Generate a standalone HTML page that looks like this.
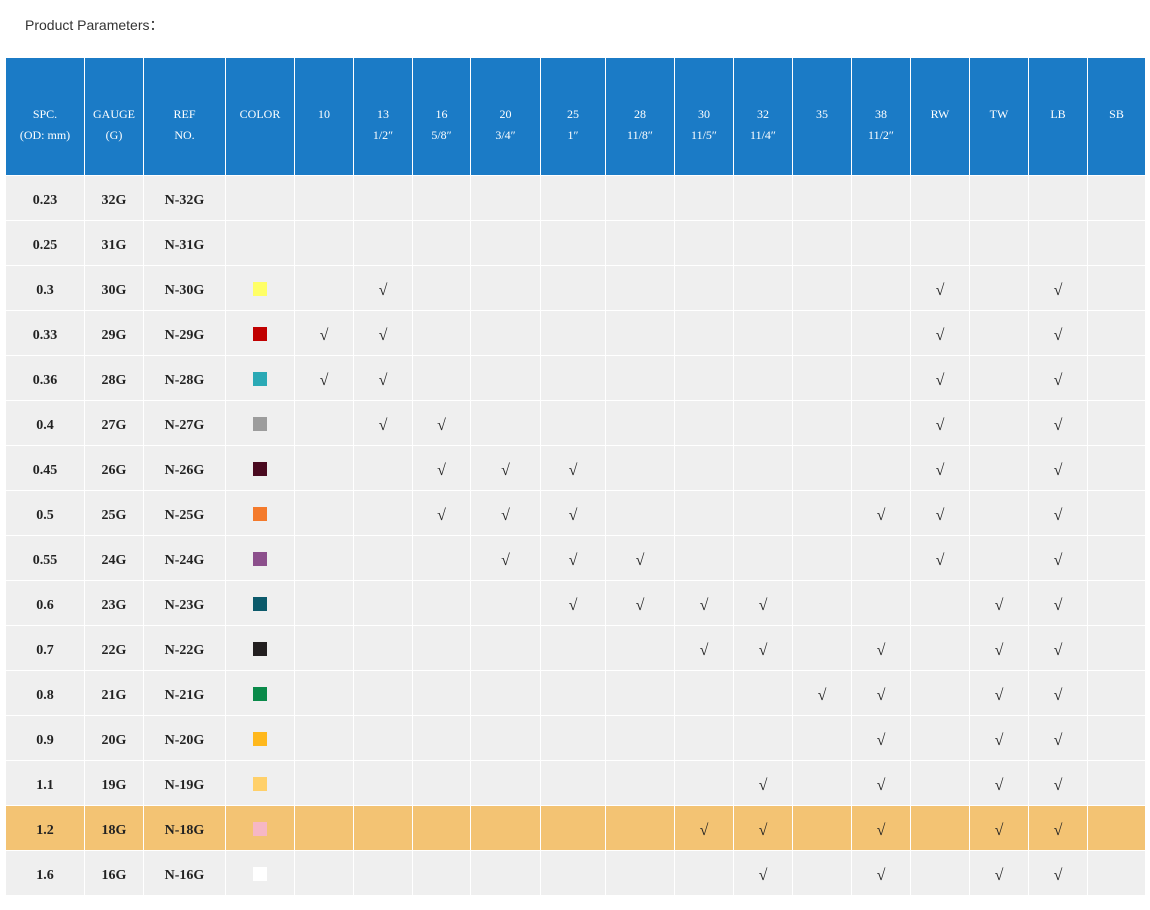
<!DOCTYPE html>
<html><head><meta charset="utf-8"><style>
body{margin:0;width:1150px;height:910px;background:#fff;font-family:"Liberation Serif","Noto Serif CJK SC",serif;position:relative;overflow:hidden}
.t{position:absolute;left:25px;top:15px;font:14px "Liberation Sans","Noto Sans CJK SC",sans-serif;color:#333}
table{position:absolute;left:5px;top:57px;border-collapse:collapse;table-layout:fixed;width:1141px}
td{border:1px solid #fff;text-align:center;padding:5px 0 0 0;background:#efefef;color:#222;font-size:14px;font-weight:bold;height:39px}
tr.h td{background:#1b7bc6;color:#fff;font-weight:normal;font-size:12px;height:117px;line-height:21px;vertical-align:middle;padding:0}
tr.h td div{margin-top:16px}
tr.o td{background:#f3c373}
.c{font-weight:normal;font-size:16px;font-style:italic}
.s{display:inline-block;width:14px;height:14px;vertical-align:middle;margin-top:-3px}
</style></head><body>
<div class="t">Product Parameters：</div>
<table>
<colgroup><col style="width:79px"><col style="width:59px"><col style="width:82px"><col style="width:69px"><col style="width:59px"><col style="width:59px"><col style="width:58px"><col style="width:70px"><col style="width:65px"><col style="width:69px"><col style="width:59px"><col style="width:59px"><col style="width:59px"><col style="width:59px"><col style="width:59px"><col style="width:59px"><col style="width:59px"><col style="width:58px"></colgroup>
<tr class="h"><td><div>SPC.<br>(OD: mm)</div></td><td><div>GAUGE<br>(G)</div></td><td><div>REF<br>NO.</div></td><td><div>COLOR<br>&nbsp;</div></td><td><div>10<br>&nbsp;</div></td><td><div>13<br>1/2″</div></td><td><div>16<br>5/8″</div></td><td><div>20<br>3/4″</div></td><td><div>25<br>1″</div></td><td><div>28<br>11/8″</div></td><td><div>30<br>11/5″</div></td><td><div>32<br>11/4″</div></td><td><div>35<br>&nbsp;</div></td><td><div>38<br>11/2″</div></td><td><div>RW<br>&nbsp;</div></td><td><div>TW<br>&nbsp;</div></td><td><div>LB<br>&nbsp;</div></td><td><div>SB<br>&nbsp;</div></td></tr>
<tr><td>0.23</td><td>32G</td><td>N-32G</td><td></td><td></td><td></td><td></td><td></td><td></td><td></td><td></td><td></td><td></td><td></td><td></td><td></td><td></td><td></td></tr>
<tr><td>0.25</td><td>31G</td><td>N-31G</td><td></td><td></td><td></td><td></td><td></td><td></td><td></td><td></td><td></td><td></td><td></td><td></td><td></td><td></td><td></td></tr>
<tr><td>0.3</td><td>30G</td><td>N-30G</td><td><span class="s" style="background:#ffff66"></span></td><td></td><td class="c">√</td><td></td><td></td><td></td><td></td><td></td><td></td><td></td><td></td><td class="c">√</td><td></td><td class="c">√</td><td></td></tr>
<tr><td>0.33</td><td>29G</td><td>N-29G</td><td><span class="s" style="background:#c00000"></span></td><td class="c">√</td><td class="c">√</td><td></td><td></td><td></td><td></td><td></td><td></td><td></td><td></td><td class="c">√</td><td></td><td class="c">√</td><td></td></tr>
<tr><td>0.36</td><td>28G</td><td>N-28G</td><td><span class="s" style="background:#2aa9b5"></span></td><td class="c">√</td><td class="c">√</td><td></td><td></td><td></td><td></td><td></td><td></td><td></td><td></td><td class="c">√</td><td></td><td class="c">√</td><td></td></tr>
<tr><td>0.4</td><td>27G</td><td>N-27G</td><td><span class="s" style="background:#9c9c9c"></span></td><td></td><td class="c">√</td><td class="c">√</td><td></td><td></td><td></td><td></td><td></td><td></td><td></td><td class="c">√</td><td></td><td class="c">√</td><td></td></tr>
<tr><td>0.45</td><td>26G</td><td>N-26G</td><td><span class="s" style="background:#4a0a20"></span></td><td></td><td></td><td class="c">√</td><td class="c">√</td><td class="c">√</td><td></td><td></td><td></td><td></td><td></td><td class="c">√</td><td></td><td class="c">√</td><td></td></tr>
<tr><td>0.5</td><td>25G</td><td>N-25G</td><td><span class="s" style="background:#f47a2b"></span></td><td></td><td></td><td class="c">√</td><td class="c">√</td><td class="c">√</td><td></td><td></td><td></td><td></td><td class="c">√</td><td class="c">√</td><td></td><td class="c">√</td><td></td></tr>
<tr><td>0.55</td><td>24G</td><td>N-24G</td><td><span class="s" style="background:#8c4f8c"></span></td><td></td><td></td><td></td><td class="c">√</td><td class="c">√</td><td class="c">√</td><td></td><td></td><td></td><td></td><td class="c">√</td><td></td><td class="c">√</td><td></td></tr>
<tr><td>0.6</td><td>23G</td><td>N-23G</td><td><span class="s" style="background:#0c5a6b"></span></td><td></td><td></td><td></td><td></td><td class="c">√</td><td class="c">√</td><td class="c">√</td><td class="c">√</td><td></td><td></td><td></td><td class="c">√</td><td class="c">√</td><td></td></tr>
<tr><td>0.7</td><td>22G</td><td>N-22G</td><td><span class="s" style="background:#231f20"></span></td><td></td><td></td><td></td><td></td><td></td><td></td><td class="c">√</td><td class="c">√</td><td></td><td class="c">√</td><td></td><td class="c">√</td><td class="c">√</td><td></td></tr>
<tr><td>0.8</td><td>21G</td><td>N-21G</td><td><span class="s" style="background:#0a8a4a"></span></td><td></td><td></td><td></td><td></td><td></td><td></td><td></td><td></td><td class="c">√</td><td class="c">√</td><td></td><td class="c">√</td><td class="c">√</td><td></td></tr>
<tr><td>0.9</td><td>20G</td><td>N-20G</td><td><span class="s" style="background:#ffb81c"></span></td><td></td><td></td><td></td><td></td><td></td><td></td><td></td><td></td><td></td><td class="c">√</td><td></td><td class="c">√</td><td class="c">√</td><td></td></tr>
<tr><td>1.1</td><td>19G</td><td>N-19G</td><td><span class="s" style="background:#ffd06a"></span></td><td></td><td></td><td></td><td></td><td></td><td></td><td></td><td class="c">√</td><td></td><td class="c">√</td><td></td><td class="c">√</td><td class="c">√</td><td></td></tr>
<tr class="o"><td>1.2</td><td>18G</td><td>N-18G</td><td><span class="s" style="background:#f6b7c4"></span></td><td></td><td></td><td></td><td></td><td></td><td></td><td class="c">√</td><td class="c">√</td><td></td><td class="c">√</td><td></td><td class="c">√</td><td class="c">√</td><td></td></tr>
<tr><td>1.6</td><td>16G</td><td>N-16G</td><td><span class="s" style="background:#ffffff"></span></td><td></td><td></td><td></td><td></td><td></td><td></td><td></td><td class="c">√</td><td></td><td class="c">√</td><td></td><td class="c">√</td><td class="c">√</td><td></td></tr>
</table>
</body></html>
